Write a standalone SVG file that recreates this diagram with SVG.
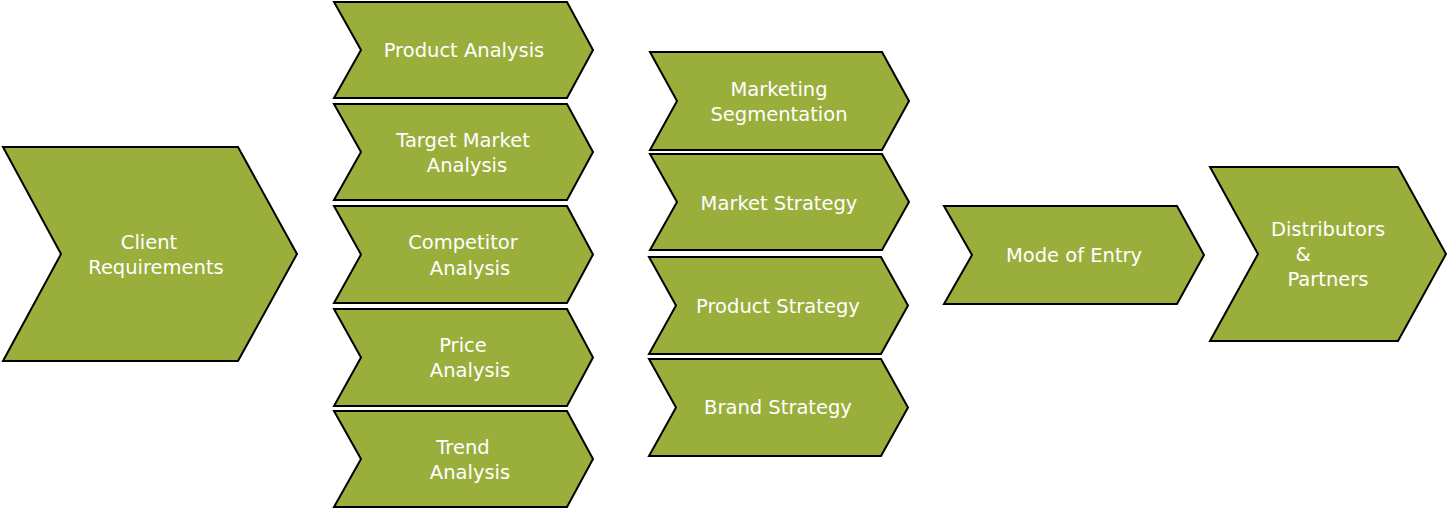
<svg xmlns="http://www.w3.org/2000/svg" width="1448" height="509" viewBox="0 0 1448 509">
<style>
.s{fill:#9aae3c;stroke:#000;stroke-width:2;stroke-linejoin:miter}
.t{font-family:"DejaVu Sans","Liberation Sans",sans-serif;font-size:19.5px;fill:#fff;text-anchor:middle}
</style>
<rect width="1448" height="509" fill="#fff"/>
<g id="connectors"/>
<g id="client"><path class="s" d="M3,147 L238,147 L297,254 L238,361 L3,361 L61,254 Z"/>
<text class="t" x="149" y="249">Client</text><text class="t" x="156" y="274">Requirements</text></g>
<g id="product-analysis"><path class="s" d="M334,2 L567,2 L593,50 L567,98 L334,98 L361,50 Z"/>
<text class="t" x="464" y="57">Product Analysis</text></g>
<g id="target-market"><path class="s" d="M334,104 L567,104 L593,152 L567,200 L334,200 L361,152 Z"/>
<text class="t" x="463" y="147">Target Market</text><text class="t" x="467" y="172">Analysis</text></g>
<g id="competitor"><path class="s" d="M334,206 L567,206 L593,254.5 L567,303 L334,303 L361,254.5 Z"/>
<text class="t" x="463" y="249">Competitor</text><text class="t" x="470" y="275">Analysis</text></g>
<g id="price"><path class="s" d="M334,309 L567,309 L593,357.5 L567,406 L334,406 L361,357.5 Z"/>
<text class="t" x="463" y="352">Price</text><text class="t" x="470" y="377">Analysis</text></g>
<g id="trend"><path class="s" d="M334,411 L567,411 L593,459 L567,507 L334,507 L361,459 Z"/>
<text class="t" x="463" y="454">Trend</text><text class="t" x="470" y="479">Analysis</text></g>
<g id="segmentation"><path class="s" d="M650,52 L882,52 L909,101 L882,150 L650,150 L677,101 Z"/>
<text class="t" x="779" y="96">Marketing</text><text class="t" x="779" y="121">Segmentation</text></g>
<g id="market-strategy"><path class="s" d="M650,154 L882,154 L909,202 L882,250 L650,250 L677,202 Z"/>
<text class="t" x="779" y="210">Market Strategy</text></g>
<g id="product-strategy"><path class="s" d="M649,257 L881,257 L908,305.5 L881,354 L649,354 L676,305.5 Z"/>
<text class="t" x="778" y="313">Product Strategy</text></g>
<g id="brand-strategy"><path class="s" d="M649,359 L881,359 L908,407.5 L881,456 L649,456 L676,407.5 Z"/>
<text class="t" x="778" y="414">Brand Strategy</text></g>
<g id="mode-of-entry"><path class="s" d="M944,206 L1177,206 L1204,255 L1177,304 L944,304 L972,255 Z"/>
<text class="t" x="1074" y="262">Mode of Entry</text></g>
<g id="distributors"><path class="s" d="M1210,167 L1398,167 L1446,254 L1398,341 L1210,341 L1258,254 Z"/>
<text class="t" x="1328" y="236">Distributors</text><text class="t" x="1303" y="261">&amp;</text><text class="t" x="1328" y="286">Partners</text></g>
</svg>
